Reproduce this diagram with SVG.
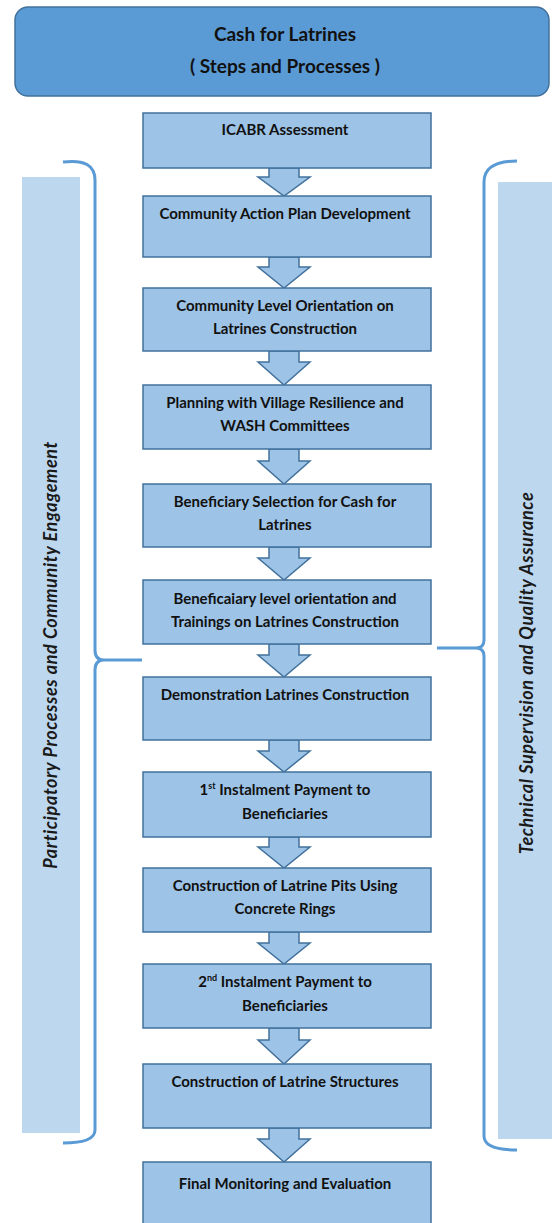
<svg xmlns="http://www.w3.org/2000/svg" width="552" height="1223" viewBox="0 0 552 1223">
<style>
.box{fill:#9dc3e6;stroke:#41719c;stroke-width:1.5}
.arr{fill:#9dc3e6;stroke:#41719c;stroke-width:1.5;stroke-linejoin:miter}
.t{font-family:Lato,"Liberation Sans",sans-serif;font-weight:bold;font-size:15px;fill:#111;text-anchor:middle}
.title{font-family:Lato,"Liberation Sans",sans-serif;font-weight:bold;font-size:19px;fill:#111;text-anchor:middle}
.side{fill:#bdd7ee}
.st{font-family:Lato,"Liberation Sans",sans-serif;font-weight:bold;font-style:italic;font-size:18px;letter-spacing:0.6px;fill:#1a1a1a;text-anchor:middle}
.brace{fill:none;stroke:#5b9bd5;stroke-width:3}
.sup{font-size:9px}
</style>
<rect width="552" height="1223" fill="#ffffff"/>
<g id="title">
<rect x="15" y="7" width="534" height="89" rx="13" fill="#5b9bd5" stroke="#41719c" stroke-width="1.5"/>
<text class="title" x="285" y="41">Cash for Latrines</text>
<text class="title" x="285" y="73">( Steps and Processes )</text>
</g>
<g id="left-panel">
<rect class="side" x="22" y="177" width="58" height="956"/>
<text class="st" transform="translate(57,655) rotate(-90)">Participatory Processes and Community Engagement</text>
</g>
<g id="right-panel">
<rect class="side" x="498" y="182" width="56" height="957"/>
<text class="st" transform="translate(533,673) rotate(-90)">Technical Supervision and Quality Assurance</text>
</g>
<g id="connectors">
<path class="brace" d="M63,162 Q95,158 95,180 L95,650 Q95,660 104,660 L142,660 M104,660 Q95,660 95,670 L95,1130 Q95,1143 63,1143"/>
<path class="brace" d="M517,161 Q484,161 484,182 L484,640 Q484,648 476,648 L437,648 M476,648 Q484,648 484,656 L484,1136 Q484,1150 517,1150"/>
<path class="arr" d="M269,168 L299,168 L299,177 L310,177 L284,196 L258,177 L269,177 Z"/>
<path class="arr" d="M269,257 L299,257 L299,267 L310,267 L284,288 L258,267 L269,267 Z"/>
<path class="arr" d="M269,351 L299,351 L299,362 L310,362 L284,385 L258,362 L269,362 Z"/>
<path class="arr" d="M269,449 L299,449 L299,461 L310,461 L284,484 L258,461 L269,461 Z"/>
<path class="arr" d="M269,547 L299,547 L299,558 L310,558 L284,580 L258,558 L269,558 Z"/>
<path class="arr" d="M269,644 L299,644 L299,655 L310,655 L284,677 L258,655 L269,655 Z"/>
<path class="arr" d="M269,740 L299,740 L299,751 L310,751 L284,772 L258,751 L269,751 Z"/>
<path class="arr" d="M269,837 L299,837 L299,847 L310,847 L284,868 L258,847 L269,847 Z"/>
<path class="arr" d="M269,932 L299,932 L299,943 L310,943 L284,964 L258,943 L269,943 Z"/>
<path class="arr" d="M269,1028 L299,1028 L299,1040 L310,1040 L284,1064 L258,1040 L269,1040 Z"/>
<path class="arr" d="M269,1128 L299,1128 L299,1139 L310,1139 L284,1162 L258,1139 L269,1139 Z"/>
</g>
<g id="n1"><rect class="box" x="143" y="113" width="288" height="55"/><text class="t" x="285" y="135">ICABR Assessment</text></g>
<g id="n2"><rect class="box" x="143" y="196" width="288" height="61"/><text class="t" x="285" y="219">Community Action Plan Development</text></g>
<g id="n3"><rect class="box" x="143" y="288" width="288" height="63"/><text class="t" x="285" y="311">Community Level Orientation  on</text><text class="t" x="285" y="334">Latrines Construction</text></g>
<g id="n4"><rect class="box" x="143" y="385" width="288" height="64"/><text class="t" x="285" y="408">Planning with Village Resilience and</text><text class="t" x="285" y="431">WASH Committees</text></g>
<g id="n5"><rect class="box" x="143" y="484" width="288" height="63"/><text class="t" x="285" y="507">Beneficiary Selection for Cash for</text><text class="t" x="285" y="530">Latrines</text></g>
<g id="n6"><rect class="box" x="143" y="580" width="288" height="64"/><text class="t" x="285" y="604">Beneficaiary level orientation and</text><text class="t" x="285" y="627">Trainings on Latrines Construction</text></g>
<g id="n7"><rect class="box" x="143" y="677" width="288" height="63"/><text class="t" x="285" y="700">Demonstration Latrines Construction</text></g>
<g id="n8"><rect class="box" x="143" y="772" width="288" height="65"/><text class="t" x="285" y="795">1<tspan class="sup" dy="-6">st</tspan><tspan dy="6"> Instalment Payment to</tspan></text><text class="t" x="285" y="819">Beneficiaries</text></g>
<g id="n9"><rect class="box" x="143" y="868" width="288" height="64"/><text class="t" x="285" y="891">Construction of Latrine Pits Using</text><text class="t" x="285" y="914">Concrete Rings</text></g>
<g id="n10"><rect class="box" x="143" y="964" width="288" height="64"/><text class="t" x="285" y="987">2<tspan class="sup" dy="-6">nd</tspan><tspan dy="6"> Instalment Payment to</tspan></text><text class="t" x="285" y="1011">Beneficiaries</text></g>
<g id="n11"><rect class="box" x="143" y="1064" width="288" height="64"/><text class="t" x="285" y="1087">Construction of Latrine Structures</text></g>
<g id="n12"><rect class="box" x="143" y="1162" width="288" height="66"/><text class="t" x="285" y="1189">Final Monitoring  and Evaluation</text></g>
</svg>
